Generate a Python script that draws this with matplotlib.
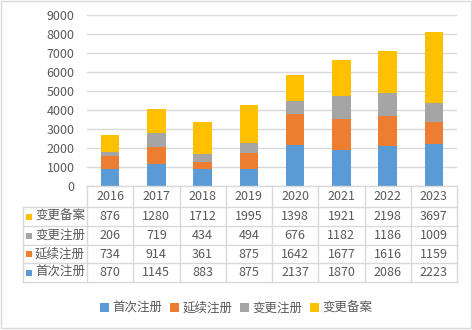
import matplotlib
matplotlib.use("Agg")
import numpy as np
import matplotlib.pyplot as plt
from matplotlib.patches import Rectangle

plt.rcParams['font.family'] = ['Noto Sans CJK SC', 'DejaVu Sans']

# data
years = ['2016', '2017', '2018', '2019', '2020', '2021', '2022', '2023']
series_names = ['首次注册', '延续注册', '变更注册', '变更备案']
first_reg = [870, 1145, 883, 875, 2137, 1870, 2086, 2223]
renew_reg = [734, 914, 361, 875, 1642, 1677, 1616, 1159]
change_reg = [206, 719, 434, 494, 676, 1182, 1186, 1009]
change_file = [876, 1280, 1712, 1995, 1398, 1921, 2198, 3697]
yticks = [0, 1000, 2000, 3000, 4000, 5000, 6000, 7000, 8000, 9000]

colors = ['#5B9BD5', '#ED7D31', '#A5A5A5', '#FFC000']
text_c = '#595959'
grid_c = '#D9D9D9'
fs = 9

W, H = 472, 330
fig = plt.figure(figsize=(W / 100, H / 100), dpi=100)

# plot area in pixels
x0, x1 = 87, 457
y_top, y_bot = 15, 186
ax = fig.add_axes([x0 / W, 1 - y_bot / H, (x1 - x0) / W, (y_bot - y_top) / H])

series = [first_reg, renew_reg, change_reg, change_file]
x = np.arange(len(years))
bottom = np.zeros(len(years))
for vals, c, name in zip(series, colors, series_names):
    ax.bar(x, vals, 0.4, bottom=bottom, color=c, label=name, zorder=3)
    bottom += np.array(vals)

ax.set_xlim(-0.5, len(years) - 0.5)
ax.set_ylim(0, 9000)
ax.set_yticks(yticks)
ax.set_xticks([])
ax.grid(axis='y', color=grid_c, linewidth=1, zorder=0)
for s in ax.spines.values():
    s.set_visible(False)
ax.tick_params(axis='y', length=0, pad=9, labelsize=fs, labelcolor=text_c)

# overlay in pixel coords for the data table and frame
ov = fig.add_axes([0, 0, 1, 1], facecolor='none')
ov.set_xlim(0, W)
ov.set_ylim(H, 0)
ov.axis('off')

ov.add_patch(Rectangle((0.5, 0.5), 470, 327, fill=False, edgecolor=grid_c, lw=1))

col_w = (x1 - x0) / len(years)
rows_y = [186, 207, 226, 245, 263, 282]
lab_x = 23
# horizontal lines
ov.plot([x0, x1], [rows_y[0], rows_y[0]], color=grid_c, lw=1)
for yy in rows_y[1:]:
    ov.plot([lab_x, x1], [yy, yy], color=grid_c, lw=1)
# vertical lines
ov.plot([lab_x, lab_x], [rows_y[1], rows_y[-1]], color=grid_c, lw=1)
for i in range(len(years) + 1):
    xx = x0 + i * col_w
    ov.plot([xx, xx], [rows_y[0], rows_y[-1]], color=grid_c, lw=1)

# header row
for i, yr in enumerate(years):
    ov.text(x0 + (i + 0.5) * col_w, (rows_y[0] + rows_y[1]) / 2, yr,
            ha='center', va='center', fontsize=fs, color=text_c)

# table rows, top-down: reversed series order
order = [3, 2, 1, 0]
for r, si in enumerate(order):
    yc = (rows_y[r + 1] + rows_y[r + 2]) / 2
    ov.add_patch(Rectangle((26, yc - 3), 6, 6, color=colors[si], lw=0))
    ov.text(35, yc, series_names[si], ha='left', va='center', fontsize=fs, color=text_c)
    for i, v in enumerate(series[si]):
        ov.text(x0 + (i + 0.5) * col_w, yc, str(v), ha='center', va='center',
                fontsize=fs, color=text_c)

# legend
handles, labels = ax.get_legend_handles_labels()
leg = fig.legend(handles, labels, loc='center', bbox_to_anchor=(236 / W, 1 - 308 / H),
                 ncol=4, frameon=False, fontsize=fs, handlelength=0.7, handleheight=0.7,
                 handletextpad=0.3, columnspacing=0.6)
for t in leg.get_texts():
    t.set_color(text_c)

fig.savefig('out.png', dpi=100)
